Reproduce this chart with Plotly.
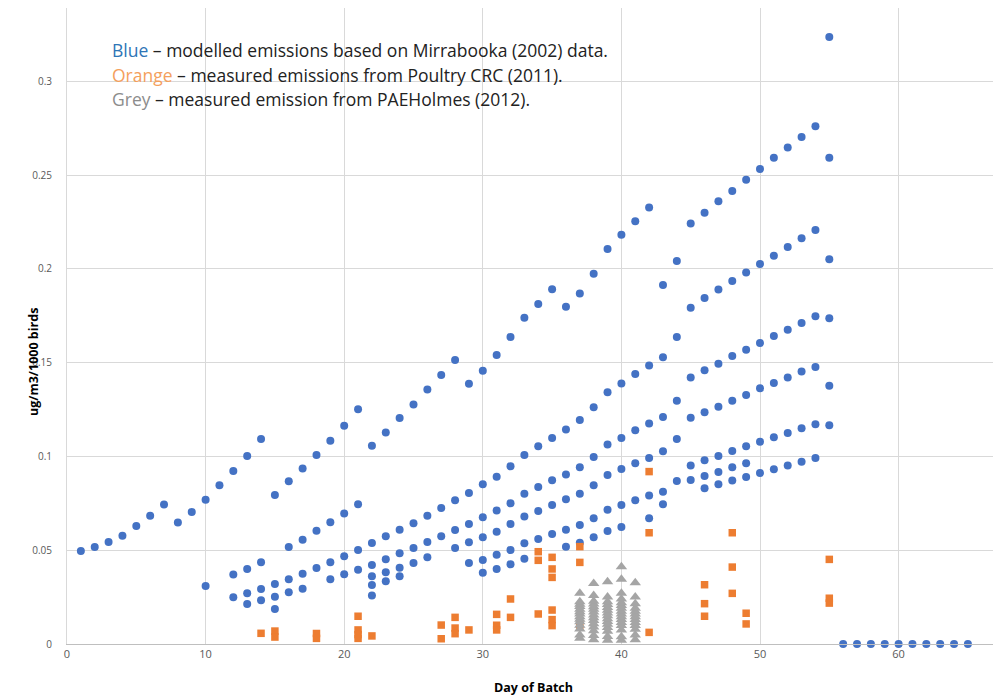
import plotly.graph_objects as go

# ---------------- data ----------------
# Blue: modelled emissions (several flocks)
blue_a_days = list(range(1, 56))
blue_a_vals = [0.0496, 0.0517, 0.0544, 0.0577, 0.0629, 0.0684, 0.0744, 0.0647, 0.0704, 0.0769,
               0.0846, 0.0922, 0.1002, 0.1093, 0.0794, 0.0867, 0.0936, 0.1007, 0.1084, 0.1164,
               0.1251, 0.1057, 0.1128, 0.1205, 0.1276, 0.1356, 0.1434, 0.1514, 0.1387, 0.1457,
               0.1541, 0.1637, 0.1739, 0.1812, 0.1891, 0.1798, 0.1869, 0.1974, 0.2105, 0.2181,
               0.2253, 0.2327, 0.1914, 0.2042, 0.2242, 0.2299, 0.2360, 0.2415, 0.2475, 0.2532,
               0.2592, 0.2647, 0.2702, 0.2760, 0.3236]

blue_b_days = [10, 12, 13, 14, 16, 17, 18, 19, 20, 21, 22, 23, 24, 25, 26, 27, 28, 29, 30, 31,
               32, 33, 34, 35, 36, 37, 38, 39, 40, 41, 42, 43, 44, 45, 46, 47, 48, 49, 50, 51,
               52, 53, 54, 55]
blue_b_vals = [0.0309, 0.0371, 0.0400, 0.0436, 0.0517, 0.0556, 0.0604, 0.0649, 0.0695, 0.0745,
               0.0538, 0.0574, 0.0609, 0.0643, 0.0684, 0.0725, 0.0766, 0.0805, 0.0851, 0.0892,
               0.0947, 0.1007, 0.1054, 0.1098, 0.1144, 0.1194, 0.1262, 0.1342, 0.1388, 0.1439,
               0.1484, 0.1528, 0.1636, 0.1793, 0.1844, 0.1889, 0.1935, 0.1980, 0.2026, 0.2070,
               0.2116, 0.2163, 0.2207, 0.2592]

blue_c_days = [12, 13, 14, 15, 16, 17, 18, 19, 20, 21, 22, 23, 24, 25, 26, 27, 28, 29, 30, 31,
               32, 33, 34, 35, 36, 37, 38, 39, 40, 41, 42, 43, 44, 45, 46, 47, 48, 49, 50, 51,
               52, 53, 54, 55]
blue_c_vals = [0.0249, 0.0270, 0.0293, 0.0320, 0.0345, 0.0375, 0.0405, 0.0436, 0.0468, 0.0501,
               0.0421, 0.0452, 0.0484, 0.0512, 0.0544, 0.0574, 0.0608, 0.0640, 0.0675, 0.0711,
               0.0750, 0.0801, 0.0837, 0.0873, 0.0904, 0.0942, 0.0997, 0.1064, 0.1098, 0.1139,
               0.1176, 0.1210, 0.1297, 0.1421, 0.1459, 0.1494, 0.1535, 0.1569, 0.1604, 0.1642,
               0.1675, 0.1711, 0.1747, 0.2051]

blue_d_days = [13, 14, 15, 16, 17, 19, 20, 21, 22, 23, 24, 25, 26, 28, 29, 30, 31, 32, 33, 34,
               35, 36, 37, 38, 39, 40, 41, 42, 43, 44, 45, 46, 47, 48, 49, 50, 51, 52, 53, 54, 55]
blue_d_vals = [0.0213, 0.0233, 0.0252, 0.0276, 0.0294, 0.0345, 0.0372, 0.0396, 0.0361, 0.0382,
               0.0407, 0.0432, 0.0462, 0.0512, 0.0542, 0.0569, 0.0599, 0.0640, 0.0680, 0.0709,
               0.0741, 0.0771, 0.0801, 0.0846, 0.0901, 0.0933, 0.0963, 0.0991, 0.1027, 0.1093,
               0.1206, 0.1235, 0.1265, 0.1297, 0.1327, 0.1363, 0.1391, 0.1421, 0.1452, 0.1477,
               0.1736]

blue_e_days = [15, 22, 23, 24, 29, 30, 31, 32, 33, 34, 35, 36, 37, 38, 39, 40, 41, 42, 43, 44,
               45, 46, 47, 48, 49, 50, 51, 52, 53, 54, 55]
blue_e_vals = [0.0187, 0.0314, 0.0334, 0.0361, 0.0432, 0.0448, 0.0476, 0.0501, 0.0537, 0.0560,
               0.0586, 0.0609, 0.0634, 0.0670, 0.0716, 0.0741, 0.0766, 0.0791, 0.0812, 0.0869,
               0.0952, 0.0979, 0.1002, 0.1029, 0.1054, 0.1078, 0.1102, 0.1125, 0.1150, 0.1171,
               0.1377]

blue_f_days = [22, 30, 31, 32, 33, 36, 37, 38, 39, 40, 42, 43, 45, 46, 47, 48, 49, 55]
blue_f_vals = [0.0259, 0.0380, 0.0400, 0.0425, 0.0455, 0.0519, 0.0540, 0.0569, 0.0602, 0.0624,
               0.0670, 0.0745, 0.0874, 0.0896, 0.0917, 0.0942, 0.0963, 0.1166]

blue_g_days = [46, 47, 48, 49, 50, 51, 52, 53, 54]
blue_g_vals = [0.0830, 0.0851, 0.0872, 0.0890, 0.0911, 0.0931, 0.0951, 0.0972, 0.0991]

blue_zero_days = [56, 57, 58, 59, 60, 61, 62, 63, 64, 65]
blue_zero_vals = [0, 0, 0, 0, 0, 0, 0, 0, 0, 0]

# Orange: measured emissions, Poultry CRC (2011)
orange_days = [14, 15, 15, 18, 18, 21, 21, 21, 21, 22, 27, 27, 28, 28, 28, 29, 31, 31, 31,
               32, 32, 34, 34, 34, 35, 35, 35, 35, 35, 35, 37, 37, 37, 42, 42, 42,
               46, 46, 46, 48, 48, 48, 49, 49, 55, 55, 55]
orange_vals = [0.0057, 0.0069, 0.0037, 0.0056, 0.0030, 0.0148, 0.0075, 0.0050, 0.0030, 0.0043,
               0.0101, 0.0028, 0.0142, 0.0085, 0.0055, 0.0075, 0.0158, 0.0100, 0.0075,
               0.0240, 0.0142, 0.0492, 0.0446, 0.0160, 0.0462, 0.0400, 0.0355, 0.0181, 0.0130,
               0.0098, 0.0519, 0.0435, 0.0101, 0.0919, 0.0593, 0.0062,
               0.0316, 0.0215, 0.0148, 0.0593, 0.0410, 0.0270, 0.0164, 0.0107,
               0.0451, 0.0244, 0.0218]

# Grey: measured emissions, PAEHolmes (2012)
grey_d37 = [0.0030, 0.0048, 0.0080, 0.0100, 0.0118, 0.0132, 0.0145, 0.0160, 0.0172, 0.0185,
            0.0200, 0.0212, 0.0225, 0.0270]
grey_d38 = [0.0022, 0.0045, 0.0070, 0.0090, 0.0108, 0.0125, 0.0140, 0.0155, 0.0170, 0.0185,
            0.0198, 0.0213, 0.0228, 0.0258, 0.0323]
grey_d39 = [0.0020, 0.0040, 0.0068, 0.0088, 0.0105, 0.0120, 0.0135, 0.0150, 0.0165, 0.0180,
            0.0195, 0.0210, 0.0225, 0.0250, 0.0332]
grey_d40 = [0.0020, 0.0039, 0.0075, 0.0098, 0.0115, 0.0130, 0.0145, 0.0160, 0.0175, 0.0190,
            0.0205, 0.0220, 0.0240, 0.0270, 0.0345, 0.0412]
grey_d41 = [0.0022, 0.0048, 0.0078, 0.0098, 0.0115, 0.0130, 0.0145, 0.0160, 0.0175, 0.0190,
            0.0215, 0.0250, 0.0327]

x_ticks = [0, 10, 20, 30, 40, 50, 60]
y_ticks = [0, 0.05, 0.1, 0.15, 0.2, 0.25, 0.3]
y_tick_labels = ["0", "0.05", "0.1", "0.15", "0.2", "0.25", "0.3"]

BLUE = "#4472C4"
ORANGE = "#ED7D31"
GREY = "#A5A5A5"

fig = go.Figure()

blue_sets = [(blue_a_days, blue_a_vals), (blue_b_days, blue_b_vals), (blue_c_days, blue_c_vals),
             (blue_d_days, blue_d_vals), (blue_e_days, blue_e_vals), (blue_f_days, blue_f_vals),
             (blue_g_days, blue_g_vals), (blue_zero_days, blue_zero_vals)]
for dx, vy in blue_sets:
    fig.add_trace(go.Scatter(x=dx, y=vy, mode="markers", cliponaxis=False, showlegend=False,
                             marker=dict(symbol="circle", size=8, color=BLUE)))

fig.add_trace(go.Scatter(x=orange_days, y=orange_vals, mode="markers", cliponaxis=False,
                         showlegend=False,
                         marker=dict(symbol="square", size=7.5, color=ORANGE)))

for day, vals in [(37, grey_d37), (38, grey_d38), (39, grey_d39), (40, grey_d40), (41, grey_d41)]:
    fig.add_trace(go.Scatter(x=[day] * len(vals), y=vals, mode="markers", cliponaxis=False,
                             showlegend=False,
                             marker=dict(symbol="triangle-up", size=10, color=GREY)))

# The page body adds an 8px offset, so the figure is sized/positioned to compensate.
OFF = 8
W, H = 1001 - OFF, 698 - OFF
L, R, T, B = 67 - OFF, 1, 0, 54
pw, ph = W - L - R, H - T - B

def px_x(p):
    return (p - OFF - L) / pw

def px_y(p):
    return (H - B - (p - OFF)) / ph

fig.add_shape(type="rect", xref="paper", yref="paper", layer="between",
              x0=px_x(92), x1=px_x(630), y0=px_y(123), y1=px_y(29),
              fillcolor="white", line=dict(width=0))

legend_lines = [
    ("<span style='color:#2E75B6'>Blue</span> – modelled emissions based on Mirrabooka (2002) data.", 50),
    ("<span style='color:#F4A05C'>Orange</span> – measured emissions from Poultry CRC (2011).", 75),
    ("<span style='color:#8C8C8C'>Grey</span> – measured emission from PAEHolmes (2012).", 99),
]
for txt, ypx in legend_lines:
    fig.add_annotation(text=txt, xref="paper", yref="paper", x=px_x(110), y=px_y(ypx),
                       xanchor="left", yanchor="middle", showarrow=False,
                       font=dict(family="Open Sans", size=17.5, color="#222222"))

fig.add_annotation(text="<b>ug/m3/1000 birds</b>", xref="paper", yref="paper",
                   x=px_x(33), y=px_y(362), textangle=-90, showarrow=False,
                   xanchor="center", yanchor="middle",
                   font=dict(family="Open Sans", size=12.5, color="#000000"))
fig.add_annotation(text="<b>Day of Batch</b>", xref="paper", yref="paper",
                   x=px_x(533), y=px_y(687), showarrow=False,
                   xanchor="center", yanchor="middle",
                   font=dict(family="Open Sans", size=12.5, color="#000000"))

fig.update_xaxes(range=[0, pw / 13.86], tickvals=x_ticks, ticktext=[str(v) for v in x_ticks],
                 showgrid=True, gridcolor="#D9D9D9", gridwidth=1, automargin=False,
                 showline=True, linecolor="#BFBFBF", linewidth=1, zeroline=False,
                 ticks="", tickfont=dict(family="Open Sans", size=11, color="#595959"))
fig.update_yaxes(range=[0, ph / 1876.0], tickvals=y_ticks, ticktext=y_tick_labels,
                 showgrid=True, gridcolor="#D9D9D9", gridwidth=1, automargin=False,
                 showline=True, linecolor="#D9D9D9", linewidth=1, zeroline=False,
                 ticks="", ticklabelstandoff=12,
                 tickfont=dict(family="Open Sans", size=10, color="#595959"))

fig.update_layout(width=W, height=H, margin=dict(l=L, r=R, t=T, b=B, pad=0, autoexpand=False),
                  paper_bgcolor="white", plot_bgcolor="white", showlegend=False)

fig.write_html("out.html")
